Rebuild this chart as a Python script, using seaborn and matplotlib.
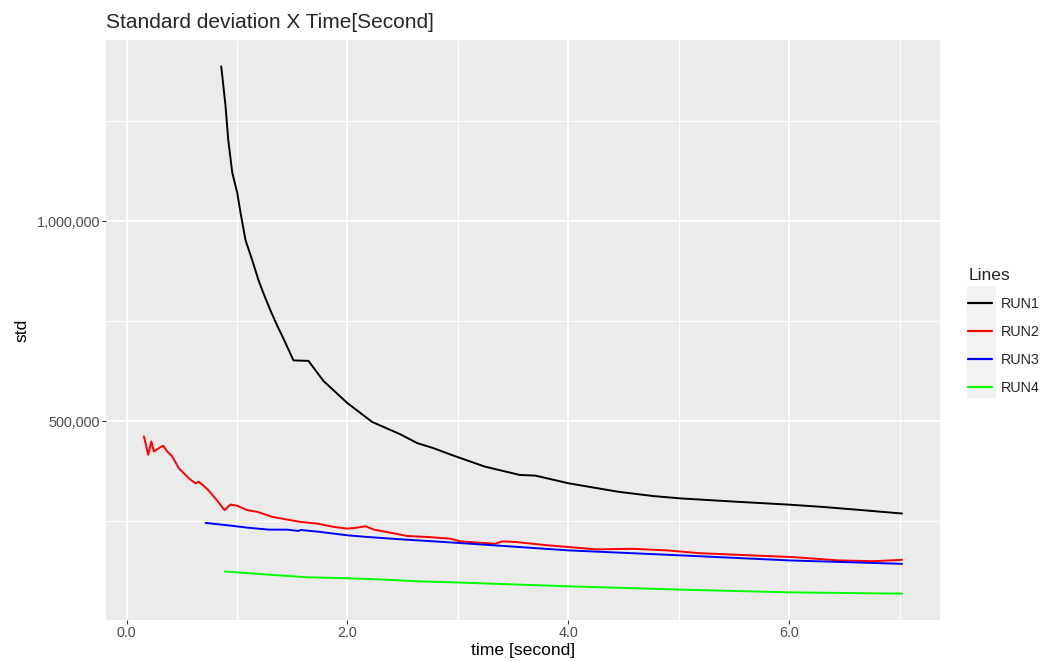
import numpy as np
import pandas as pd
import seaborn as sns
import matplotlib.pyplot as plt
from matplotlib.ticker import FuncFormatter, MultipleLocator
from matplotlib.patches import Rectangle

# values
run1_t = [0.857, 0.896, 0.920, 0.957, 1.002, 1.032, 1.077, 1.138, 1.195, 1.240, 1.303, 1.364,
          1.421, 1.511, 1.647, 1.783, 1.997, 2.224, 2.480, 2.631, 2.778, 2.956, 3.242, 3.559,
          3.701, 4.004, 4.448, 4.766, 5.020, 5.528, 5.973, 6.290, 6.703, 7.021]
run1_std = [1386200, 1287200, 1203500, 1120600, 1070400, 1020100, 952300, 902000, 851800, 819100,
            776400, 738700, 706000, 652000, 650800, 600500, 545900, 498200, 467300, 445500, 432900,
            414600, 386900, 366000, 364300, 345000, 324100, 313300, 307300, 299000, 292200, 286400,
            277100, 269600]

run2_t = [0.157, 0.196, 0.224, 0.247, 0.292, 0.332, 0.368, 0.414, 0.473, 0.564, 0.624, 0.654,
          0.730, 0.805, 0.887, 0.941, 1.002, 1.092, 1.183, 1.319, 1.454, 1.575, 1.726, 1.876,
          1.997, 2.088, 2.163, 2.238, 2.389, 2.540, 2.721, 2.932, 3.019, 3.337, 3.401, 3.528,
          3.814, 4.004, 4.258, 4.576, 4.893, 5.178, 5.656, 6.036, 6.449, 6.766, 7.021]
run2_std = [462300, 416300, 449700, 424600, 432900, 438900, 424600, 412000, 382600, 357500, 344900,
            349200, 330900, 307300, 278100, 292200, 288900, 278100, 273900, 261300, 254500, 248700,
            244500, 236200, 231900, 234400, 237900, 229400, 221800, 213600, 211100, 206800, 200200,
            194200, 200200, 198500, 190200, 185900, 180200, 181600, 177600, 170800, 165100, 160800,
            152500, 150700, 154000]

run3_t = [0.715, 0.911, 1.092, 1.288, 1.454, 1.559, 1.575, 1.756, 1.997, 2.178, 2.480, 2.781,
          3.113, 4.004, 5.020, 6.005, 7.021]
run3_std = [246200, 240400, 234400, 229400, 229400, 226100, 228600, 223600, 215300, 211100, 205300,
            200200, 194200, 177600, 165100, 152500, 144000]

run4_t = [0.890, 1.273, 1.635, 1.997, 2.329, 2.631, 2.932, 4.004, 5.020, 6.005, 7.021]
run4_std = [124900, 117300, 110500, 108000, 104700, 100500, 98000, 87900, 79600, 72800, 69600]

runs = ["RUN1", "RUN2", "RUN3", "RUN4"]
colors = ["#000000", "#FF0000", "#0000FF", "#00FF00"]

frames = []
for name, t, s in zip(runs, [run1_t, run2_t, run3_t, run4_t], [run1_std, run2_std, run3_std, run4_std]):
    frames.append(pd.DataFrame({"time": t, "std": s, "Lines": name}))
df = pd.concat(frames, ignore_index=True)

sns.set_theme(style="darkgrid", rc={"axes.facecolor": "#EBEBEB", "grid.color": "white"})
plt.rcParams["font.family"] = ["Liberation Sans", "DejaVu Sans"]

fig = plt.figure(figsize=(10.5, 6.61), dpi=100)
ax = fig.add_axes([106 / 1050, 1 - 620 / 661, 834 / 1050, 580 / 661])

sns.lineplot(data=df, x="time", y="std", hue="Lines", palette=dict(zip(runs, colors)),
             estimator=None, sort=False, linewidth=1.4, ax=ax)

# ggplot style limits (5% expansion)
xmin, xmax = df["time"].min(), df["time"].max()
ymin, ymax = df["std"].min(), df["std"].max()
ax.set_xlim(xmin - 0.05 * (xmax - xmin), xmax + 0.05 * (xmax - xmin))
ax.set_ylim(ymin - 0.05 * (ymax - ymin), ymax + 0.05 * (ymax - ymin))

ax.xaxis.set_major_locator(MultipleLocator(2))
ax.xaxis.set_minor_locator(MultipleLocator(1))
ax.yaxis.set_major_locator(MultipleLocator(500000))
ax.yaxis.set_minor_locator(MultipleLocator(250000))
ax.xaxis.set_major_formatter(FuncFormatter(lambda v, p: f"{v:.1f}"))
ax.yaxis.set_major_formatter(FuncFormatter(lambda v, p: f"{int(v):,}"))

ax.grid(which="major", color="white", linewidth=1.4)
ax.grid(which="minor", color="white", linewidth=0.7)
for sp in ax.spines.values():
    sp.set_visible(False)
ax.tick_params(axis="both", which="major", length=2.9, width=0.8, color="#333333",
               labelsize=10.4, labelcolor="#4D4D4D", pad=1.6, bottom=True, left=True)
ax.tick_params(which="minor", length=0)

ax.set_xlabel("time [second]", fontsize=12.6, color="black", labelpad=2)
ax.set_ylabel("std", fontsize=12.6, color="black", labelpad=5)
ax.set_title("Standard deviation X Time[Second]", loc="left", fontsize=15, pad=9)

# legend with grey key background like ggplot
fig.patches.append(Rectangle((967 / 1050, 1 - 398 / 661), 29 / 1050, 112 / 661,
                             transform=fig.transFigure, facecolor="#F2F2F2", edgecolor="none",
                             zorder=-1))
leg = ax.legend(title="Lines", loc="upper left", bbox_to_anchor=(961 / 1050, 1 - 261 / 661),
                bbox_transform=fig.transFigure, frameon=False, fontsize=10.4,
                title_fontsize=12.6, handlelength=1.65, handletextpad=0.6, labelspacing=0.96,
                borderpad=0, alignment="left")
for h in leg.get_lines():
    h.set_linewidth(1.6)

fig.savefig("out.png", dpi=100)
